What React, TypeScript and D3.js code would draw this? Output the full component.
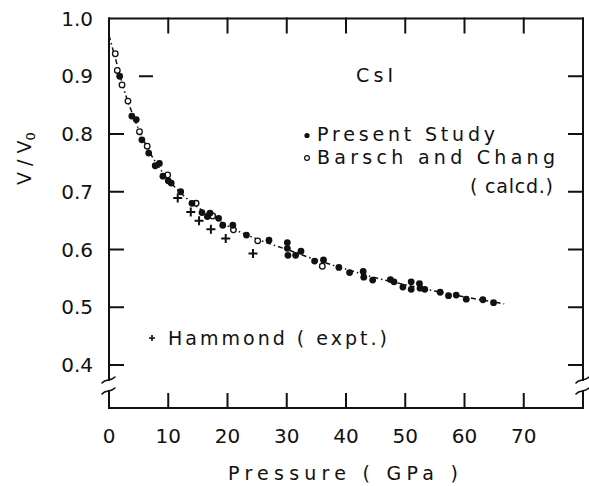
import React from 'react';
import * as d3 from 'd3';

// V/V0 vs pressure for CsI
const presentStudy: [number, number][] = [
  [1.8, 0.9], [3.85, 0.831], [4.6, 0.825], [5.55, 0.79], [6.7, 0.767], [7.8, 0.745],
  [8.5, 0.749], [9.1, 0.727], [10.0, 0.719], [10.5, 0.715], [12.1, 0.7], [14.0, 0.68],
  [15.7, 0.664], [16.6, 0.657], [17.05, 0.663], [18.5, 0.654], [19.2, 0.642], [20.9, 0.642],
  [23.2, 0.625], [27.0, 0.616], [30.1, 0.612], [30.1, 0.602], [30.2, 0.59], [31.5, 0.59],
  [32.4, 0.597], [34.7, 0.58], [36.2, 0.582], [38.8, 0.569], [40.6, 0.56], [42.9, 0.562],
  [43.0, 0.552], [44.5, 0.547], [47.5, 0.548], [48.1, 0.544], [49.6, 0.535], [51.0, 0.544],
  [51.0, 0.531], [52.4, 0.541], [52.5, 0.533], [53.3, 0.531], [55.9, 0.526], [57.3, 0.52],
  [58.6, 0.521], [60.3, 0.514], [63.1, 0.513], [64.9, 0.508],
];

const barschChang: [number, number][] = [
  [1.06, 0.939], [1.4, 0.91], [2.2, 0.885], [3.2, 0.857], [5.15, 0.804], [6.45, 0.779],
  [9.9, 0.729], [14.7, 0.68], [17.5, 0.658], [21.0, 0.634], [25.1, 0.615], [36.0, 0.571],
];

const hammond: [number, number][] = [
  [11.6, 0.689], [13.8, 0.665], [15.2, 0.65], [17.2, 0.635], [19.7, 0.619], [24.3, 0.593],
];

// fitted curve
const fitCurve: [number, number][] = [
  [0, 0.971], [0.5, 0.952], [1, 0.934], [2, 0.896], [3, 0.862], [4, 0.834], [5, 0.808],
  [6, 0.786], [7, 0.766], [8, 0.749], [10, 0.721], [12, 0.699], [14, 0.681], [16, 0.666],
  [18, 0.653], [20, 0.641], [25, 0.618], [30, 0.6], [35, 0.582], [40, 0.566], [45, 0.551],
  [50, 0.539], [55, 0.528], [60, 0.518], [66.7, 0.506],
];

const xTicks = [0, 10, 20, 30, 40, 50, 60, 70];
const yTicks = [0.4, 0.5, 0.6, 0.7, 0.8, 0.9, 1.0];

const font = '"DejaVu Sans", sans-serif';

const App = () => {
  const width = 589;
  const height = 486;
  const left = 109;
  const right = 583;
  const top = 18.5;
  const bottom = 408;

  const x = d3.scaleLinear().domain([0, 80]).range([left, right]);
  const y = d3.scaleLinear().domain([0.4, 1.0]).range([365, top]);

  const line = d3
    .line<[number, number]>()
    .x((d) => x(d[0]))
    .y((d) => y(d[1]))
    .curve(d3.curveMonotoneX);

  const breakUp = 380;
  const breakLow = 391;
  const tick = 14;

  const breakMark = (cx: number, cy: number) =>
    `M${cx - 7},${cy + 3} C${cx - 3},${cy - 2} ${cx + 1},${cy + 2} ${cx + 6},${cy - 3}`;

  return (
    <svg width={width} height={height} style={{ position: 'absolute', left: 0, top: 0 }}>
      <rect width={width} height={height} fill="#fff" />
      <g stroke="#111" strokeWidth={2} fill="none" strokeLinecap="square">
        {/* frame */}
        <line x1={left} y1={top} x2={right} y2={top} />
        <line x1={left} y1={top} x2={left} y2={breakUp} />
        <line x1={left} y1={breakLow} x2={left} y2={bottom} />
        <line x1={right} y1={top} x2={right} y2={breakUp} />
        <line x1={right} y1={breakLow} x2={right} y2={bottom} />
        <line x1={left} y1={bottom} x2={right} y2={bottom} />
        {/* axis breaks */}
        <path d={breakMark(left, breakUp)} strokeWidth={1.6} strokeLinecap="round" />
        <path d={breakMark(left, breakLow)} strokeWidth={1.6} strokeLinecap="round" />
        <path d={breakMark(right, breakUp)} strokeWidth={1.6} strokeLinecap="round" />
        <path d={breakMark(right, breakLow)} strokeWidth={1.6} strokeLinecap="round" />
        {/* x ticks top and bottom */}
        {xTicks.slice(1).map((t) => (
          <g key={'xt' + t}>
            <line x1={x(t)} y1={top} x2={x(t)} y2={top + tick} />
            <line x1={x(t)} y1={bottom} x2={x(t)} y2={bottom - tick} />
          </g>
        ))}
        {/* y ticks left and right */}
        {yTicks.slice(0, -1).map((t) => (
          <g key={'yt' + t}>
            {t < 0.85 && <line x1={left} y1={y(t)} x2={left + tick} y2={y(t)} />}
            <line x1={right} y1={y(t)} x2={right - tick} y2={y(t)} />
          </g>
        ))}
        {/* error indicator dash */}
        <line x1={140} y1={y(0.9)} x2={152} y2={y(0.9)} />
      </g>

      {/* tick labels */}
      <g fontFamily={font} fontSize={20} fill="#111">
        {xTicks.map((t) => (
          <text key={'xl' + t} x={x(t)} y={443} textAnchor="middle">
            {t}
          </text>
        ))}
        {yTicks.map((t) => (
          <text key={'yl' + t} x={93} y={y(t) + 7} textAnchor="end">
            {t.toFixed(1)}
          </text>
        ))}
        <text x={228} y={480} fontSize={19} textLength={230} lengthAdjust="spacing">
          Pressure ( GPa )
        </text>
        <text transform="translate(31,185) rotate(-90)" fontSize={19}>
          V / V
          <tspan fontSize={13} dy={4}>
            0
          </tspan>
        </text>
      </g>

      {/* fitted curve */}
      <path
        d={line(fitCurve) ?? ''}
        fill="none"
        stroke="#111"
        strokeWidth={1.5}
        strokeDasharray="5,3,1.5,3"
      />

      {/* data */}
      {barschChang.map((d, i) => (
        <circle key={'b' + i} cx={x(d[0])} cy={y(d[1])} r={2.8} fill="#fff" stroke="#111" strokeWidth={1.3} />
      ))}
      {presentStudy.map((d, i) => (
        <circle key={'p' + i} cx={x(d[0])} cy={y(d[1])} r={3.4} fill="#111" />
      ))}
      {hammond.map((d, i) => (
        <path
          key={'h' + i}
          d={`M${x(d[0]) - 4.5},${y(d[1])}h9M${x(d[0])},${y(d[1]) - 4.5}v9`}
          stroke="#111"
          strokeWidth={2}
        />
      ))}

      {/* legend */}
      <g fontFamily={font} fontSize={19} fill="#111">
        <text x={356} y={82} textLength={37} lengthAdjust="spacing">
          CsI
        </text>
        <circle cx={307} cy={135.5} r={2.6} fill="#111" />
        <text x={317} y={141} textLength={178} lengthAdjust="spacing">
          Present Study
        </text>
        <circle cx={307} cy={158} r={2.4} fill="#fff" stroke="#111" strokeWidth={1.2} />
        <text x={317} y={164} textLength={238} lengthAdjust="spacing">
          Barsch and Chang
        </text>
        <text x={470} y={193} textLength={83} lengthAdjust="spacing">
          ( calcd.)
        </text>
        <path d="M149,338h6M152,335v6" stroke="#111" strokeWidth={1.6} />
        <text x={168} y={345} textLength={219} lengthAdjust="spacing">
          Hammond ( expt.)
        </text>
      </g>
    </svg>
  );
};

export default App;
